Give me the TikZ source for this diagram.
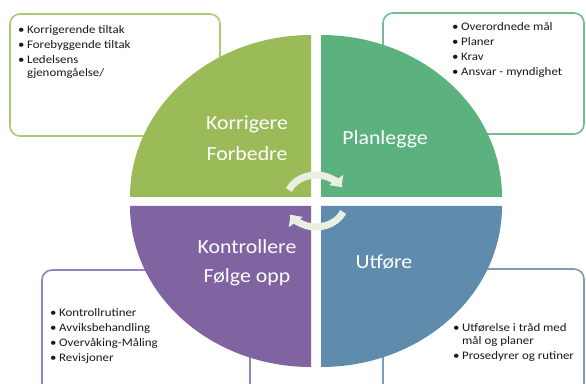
\documentclass[tikz,border=0pt]{standalone}
\usepackage{fontspec}
\setmainfont{Carlito}
\usetikzlibrary{arrows.meta}
\definecolor{qtl}{RGB}{155,187,89}
\definecolor{qtr}{RGB}{92,178,126}
\definecolor{qbl}{RGB}{128,100,162}
\definecolor{qbr}{RGB}{95,140,172}
\definecolor{otl}{RGB}{170,202,115}
\definecolor{otr}{RGB}{112,192,142}
\definecolor{obl}{RGB}{152,128,190}
\definecolor{obr}{RGB}{122,156,190}
\definecolor{cyccol}{RGB}{233,239,225}
\newcommand\bul{\makebox[8pt][l]{\textbullet}}
\tikzset{
  infobox/.style={rounded corners=10pt, line width=1.6pt, fill=white},
  listtext/.style={anchor=north west, inner sep=0pt,
    font=\fontsize{11.5}{15}\selectfont, text=black!90, xscale=1.12},
  biglabel/.style={text=white, inner sep=0pt, font=\fontsize{20}{24}\selectfont, xscale=1.09},
  cyc/.style={line width=7pt, draw=cyccol, -{Triangle[width=17pt,length=9pt]}}
}
\begin{document}
\begin{tikzpicture}[x=1pt,y=1pt]
\useasboundingbox (0,0) rectangle (586,383);
\clip (0,0) rectangle (586,383);
% side boxes
\draw[infobox, draw=otl] (10,247) rectangle (220,369);
\draw[infobox, draw=otr] (383,249) rectangle (584,370);
\draw[infobox, draw=obl] (42,-30) rectangle (250,113);
\draw[infobox, draw=obr] (383,-30) rectangle (584,114);
% quadrants
\fill[qtl] (311,186) -- (130,186) arc[start angle=180,end angle=90,x radius=181,y radius=162] -- cycle;
\fill[qtr] (321,186) -- (321,348) arc[start angle=90,end angle=0,x radius=181,y radius=162] -- cycle;
\fill[qbl] (311,177) -- (130,177) arc[start angle=180,end angle=270,x radius=181,y radius=161] -- cycle;
\fill[qbr] (321,177) -- (502,177) arc[start angle=0,end angle=-90,x radius=181,y radius=161] -- cycle;
% big labels
\node[biglabel] (korr) at (247,259) {Korrigere};
\node[biglabel] (forb) at (247,229) {Forbedre};
\node[biglabel] (plan) at (385,244) {Planlegge};
\node[biglabel] (kont) at (247,136) {Kontrollere};
\node[biglabel] (folg) at (247,106) {Følge opp};
\node[biglabel] (utf) at (384,121) {Utføre};
% lists
\node[listtext] (ltl) at (18,360) {\begin{tabular}{@{}l@{}l@{}}
\bul & Korrigerende tiltak\\
\bul & Forebyggende tiltak\\
\bul & Ledelsens\\[-2pt]
 & gjenomgåelse/
\end{tabular}};
\node[listtext] (ltr) at (452,363) {\begin{tabular}{@{}l@{}l@{}}
\bul & Overordnede mål\\
\bul & Planer\\
\bul & Krav\\
\bul & Ansvar - myndighet
\end{tabular}};
\node[listtext] (lbl) at (50,77) {\begin{tabular}{@{}l@{}l@{}}
\bul & Kontrollrutiner\\
\bul & Avviksbehandling\\
\bul & Overvåking-Måling\\
\bul & Revisjoner
\end{tabular}};
\node[listtext] (lbr) at (453,62) {\begin{tabular}{@{}l@{}l@{}}
\bul & Utførelse i tråd med\\[-2pt]
 & mål og planer\\
\bul & Prosedyrer og rutiner
\end{tabular}};
% cycle arrows
\coordinate (c) at (316,182);
\draw[cyc] (c) ++(155:30 and 26) arc[start angle=155,end angle=32,x radius=30,y radius=26];
\draw[cyc] (c) ++(-25:30 and 26) arc[start angle=-25,end angle=-148,x radius=30,y radius=26];
\end{tikzpicture}
\end{document}
